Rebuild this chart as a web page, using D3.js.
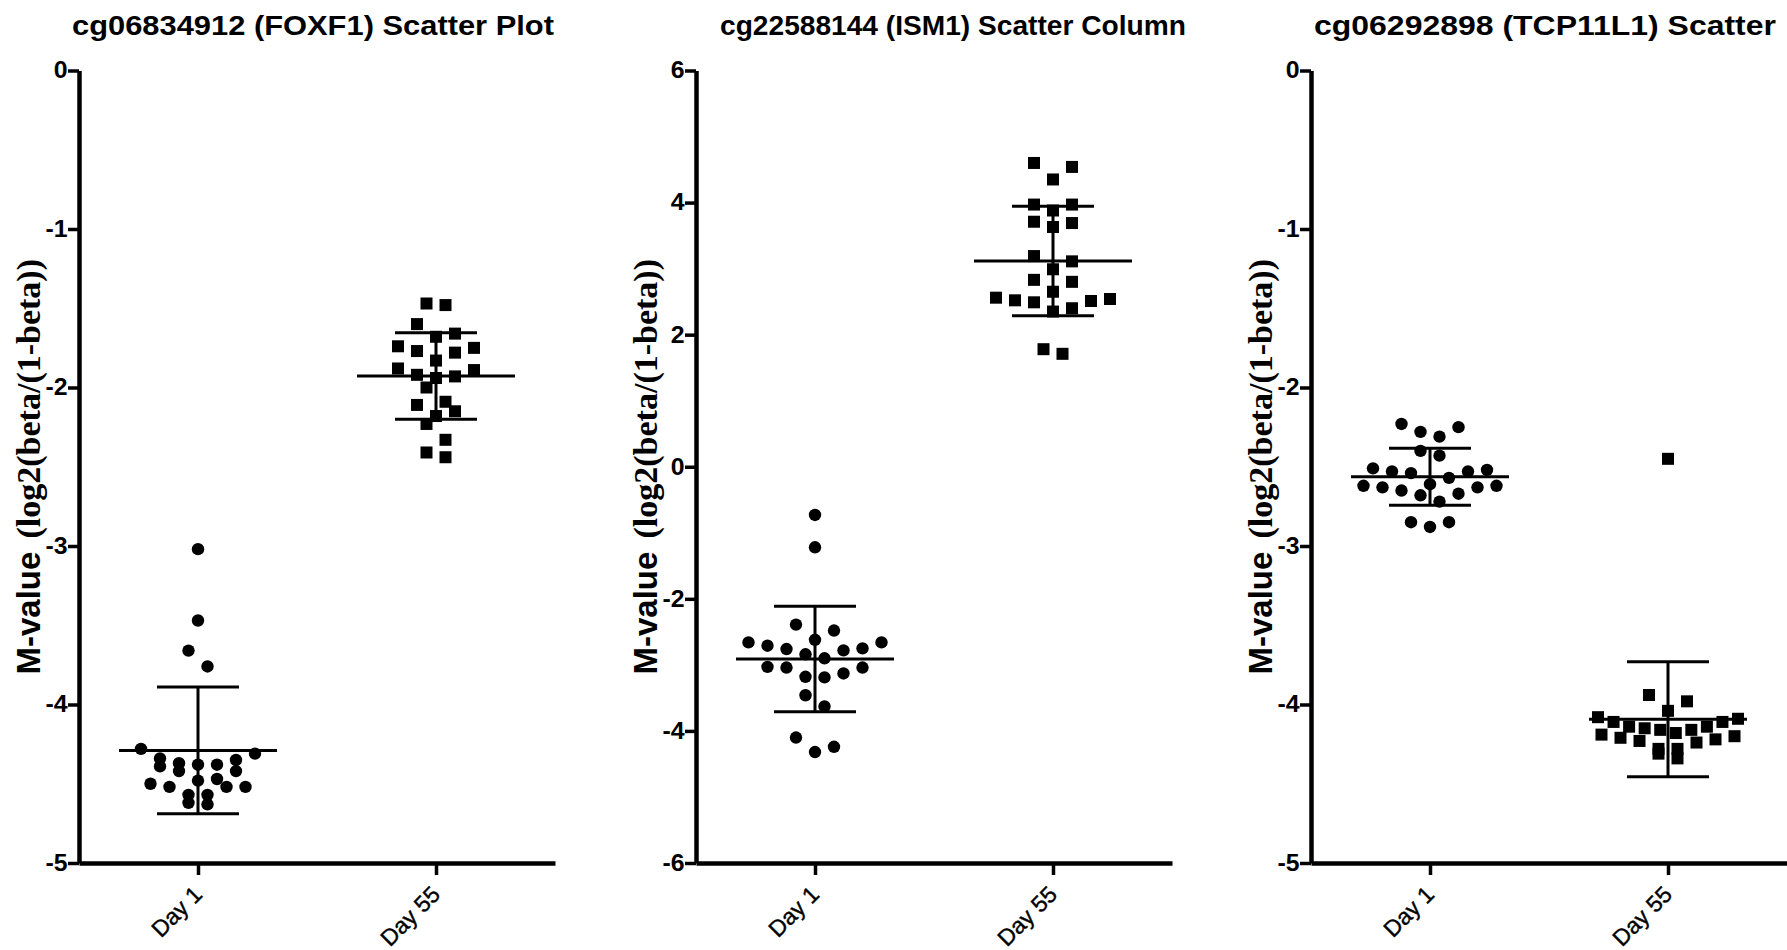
<!DOCTYPE html>
<html>
<head>
<meta charset="utf-8">
<script src="https://cdn.jsdelivr.net/npm/d3@7"></script>
<style>
  body { margin: 0; background: #fff; }
  svg { display: block; font-family: "Liberation Sans", Arial, sans-serif; }
  .axis path, .axis line { stroke: #000; }
  .axis path { stroke-width: 4.5px; }
  .axis line { stroke-width: 3.5px; }
  .axis text { fill: #000; }
  .ytick text { font-size: 23px; font-weight: bold; }
  .xtick text { font-size: 23px; stroke: #000; stroke-width: 0.4px; }
  .stat { stroke: #000; stroke-width: 3px; }
</style>
</head>
<body>
<svg id="chart"></svg>
<script>

// Groups on the x axis
var groups = ["Day 1", "Day 55"];

// Panel titles
var titles = [
    "cg06834912 (FOXF1) Scatter Plot",
    "cg22588144 (ISM1) Scatter Column",
    "cg06292898 (TCP11L1) Scatter"
];

// Y tick values
var ticksFoxf1 = [0, -1, -2, -3, -4, -5];
var ticksIsm1 = [6, 4, 2, 0, -2, -4, -6];
var ticksTcp11l1 = [0, -1, -2, -3, -4, -5];

// M-values
var foxf1Day1 = [-3.02, -3.47, -3.66, -3.76, -4.28, -4.31, -4.34, -4.39, -4.37, -4.38, -4.38, -4.35,
                 -4.42, -4.42, -4.48, -4.50, -4.47, -4.52, -4.52, -4.52, -4.57, -4.57, -4.63, -4.62];
var foxf1Day55 = [-1.48, -1.47, -1.60, -1.68, -1.66, -1.75, -1.78, -1.77, -1.74, -1.83, -1.89, -1.93,
                  -1.94, -1.92, -1.88, -2.00, -2.11, -2.09, -2.15, -2.18, -2.23, -2.33, -2.44, -2.41];
var ism1Day1 = [-0.73, -1.22, -2.39, -2.48, -2.62, -2.66, -2.66, -2.71, -2.75, -2.78, -2.76, -2.84,
                -2.90, -3.04, -3.04, -3.03, -3.13, -3.19, -3.18, -3.46, -3.63, -4.10, -4.24, -4.32];
var ism1Day55 = [4.60, 4.54, 4.35, 3.97, 3.97, 3.88, 3.71, 3.63, 3.69, 3.11, 3.19, 2.99,
                 2.83, 2.80, 2.65, 2.54, 2.51, 2.40, 2.35, 2.49, 2.52, 2.56, 1.71, 1.78];
var tcp11l1Day1 = [-2.25, -2.31, -2.28, -2.23, -2.40, -2.43, -2.52, -2.53, -2.54, -2.53, -2.51, -2.57,
                   -2.62, -2.63, -2.65, -2.68, -2.67, -2.63, -2.62, -2.61, -2.72, -2.85, -2.88, -2.85];
var tcp11l1Day55 = [-2.45, -3.94, -3.98, -4.04, -4.09, -4.08, -4.11, -4.14, -4.15, -4.16, -4.18, -4.20,
                    -4.22, -4.23, -4.21, -4.19, -4.16, -4.14, -4.11, -4.24, -4.28, -4.34, -4.31, -4.28];

// Layout
var width = 1787, height = 950;
var panelLeft = [79, 696, 1311];
var titleCenter = [313, 953, 1545];
var titleWidth = [482, 466, 462];
var plotW = 476, plotTop = 70.5, plotBottom = 863;

var panels = [
    {title: titles[0], ticks: ticksFoxf1, domain: [-5, 0], series: [foxf1Day1, foxf1Day55]},
    {title: titles[1], ticks: ticksIsm1, domain: [-6, 6], series: [ism1Day1, ism1Day55]},
    {title: titles[2], ticks: ticksTcp11l1, domain: [-5, 0], series: [tcp11l1Day1, tcp11l1Day55]}
];

var svg = d3.select("#chart")
    .attr("width", width)
    .attr("height", height);

// Spread points of a column into rows, lowest values in the middle of each row
function swarm(values, y, cx) {
    var rowH = 17, step = 19, maxHalf = 70;
    var pts = values.map(function(v) { return {v: v, y: y(v)}; })
        .sort(function(a, b) { return a.y - b.y; });
    var rows = [], cur = null;
    pts.forEach(function(p) {
        if (!cur || p.y - cur[0].y > rowH) {
            cur = [p];
            rows.push(cur);
        } else {
            cur.push(p);
        }
    });
    rows.forEach(function(row) {
        var n = row.length;
        var s = n > 1 ? Math.min(step, 2 * maxHalf / (n - 1)) : 0;
        var slots = d3.range(n).map(function(i) { return (i - (n - 1) / 2) * s; })
            .sort(function(a, b) { return Math.abs(a) - Math.abs(b) || b - a; });
        row.sort(function(a, b) { return b.y - a.y; })
            .forEach(function(p, i) { p.x = cx + slots[i]; });
    });
    return pts;
}

panels.forEach(function(panel, i) {

    var g = svg.append("g")
        .attr("transform", "translate(" + panelLeft[i] + ",0)");

    var y = d3.scaleLinear().domain(panel.domain).range([plotBottom, plotTop]);
    var x = d3.scalePoint().domain(groups).range([0, plotW]).padding(0.5);

    // Title
    svg.append("text")
        .attr("x", titleCenter[i])
        .attr("y", 35)
        .attr("text-anchor", "middle")
        .attr("textLength", titleWidth[i])
        .attr("lengthAdjust", "spacingAndGlyphs")
        .style("font-size", "27px")
        .style("font-weight", "bold")
        .text(panel.title);

    // Y axis
    var yg = g.append("g")
        .attr("class", "axis ytick")
        .call(d3.axisLeft(y)
            .tickValues(panel.ticks)
            .tickSize(11)
            .tickPadding(0.5)
            .tickSizeOuter(0)
            .tickFormat(function(d) { return String(d); }));

    // Tick labels are drawn a little wider in the original
    yg.selectAll("text").each(function() {
        var w = this.getComputedTextLength();
        d3.select(this)
            .attr("textLength", w * 1.08)
            .attr("lengthAdjust", "spacingAndGlyphs");
    });

    // X axis
    var xg = g.append("g")
        .attr("class", "axis xtick")
        .attr("transform", "translate(0," + plotBottom + ")")
        .call(d3.axisBottom(x).tickSize(12).tickSizeOuter(0));
    xg.selectAll("text")
        .attr("x", 0)
        .attr("y", 0)
        .attr("dy", 0)
        .attr("transform", "translate(5,33) rotate(-45)")
        .style("text-anchor", "end");

    // Y label
    var lab = g.append("text")
        .attr("transform", "translate(-39," + ((plotTop + plotBottom) / 2) + ") rotate(-90)")
        .attr("text-anchor", "middle")
        .style("font-weight", "bold");
    lab.append("tspan")
        .style("font-size", "33px")
        .text("M-value ");
    lab.append("tspan")
        .attr("dx", 4)
        .style("font-family", "'Liberation Serif', 'Times New Roman', serif")
        .style("font-size", "34px")
        .text("(log2(beta/(1-beta))");

    // Points and mean +/- SD per group
    panel.series.forEach(function(values, j) {
        var cx = x(groups[j]);
        var pts = swarm(values, y, cx);

        if (j === 0) {
            g.selectAll(".dot" + j)
                .data(pts)
                .enter()
                .append("circle")
                .attr("cx", function(d) { return d.x; })
                .attr("cy", function(d) { return d.y; })
                .attr("r", 6.2);
        } else {
            g.selectAll(".sq" + j)
                .data(pts)
                .enter()
                .append("rect")
                .attr("x", function(d) { return d.x - 6; })
                .attr("y", function(d) { return d.y - 6; })
                .attr("width", 12)
                .attr("height", 12);
        }

        var m = d3.mean(values), sd = d3.deviation(values);
        g.append("line").attr("class", "stat")
            .attr("x1", cx - 79).attr("x2", cx + 79)
            .attr("y1", y(m)).attr("y2", y(m));
        g.append("line").attr("class", "stat")
            .attr("x1", cx).attr("x2", cx)
            .attr("y1", y(m + sd)).attr("y2", y(m - sd));
        [m + sd, m - sd].forEach(function(v) {
            g.append("line").attr("class", "stat")
                .attr("x1", cx - 41).attr("x2", cx + 41)
                .attr("y1", y(v)).attr("y2", y(v));
        });
    });
});

</script>
</body>
</html>
